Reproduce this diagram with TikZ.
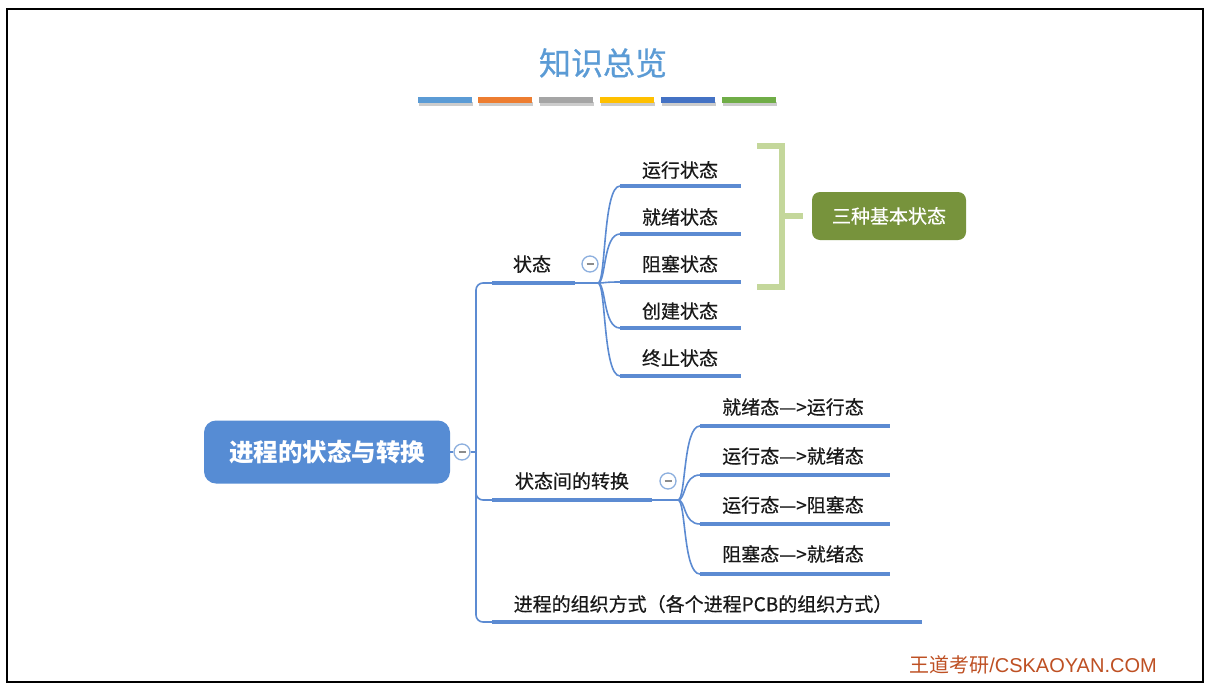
\documentclass[tikz,border=0pt]{standalone}
\usepackage{fontspec}
\setmainfont{Noto Sans CJK SC}
\newfontfamily\medf[FakeBold=0.5]{Noto Sans CJK SC}
\newfontfamily\titlef[FakeBold=0.6]{Noto Sans CJK SC}
\newfontfamily\arialf{Liberation Sans}
\usetikzlibrary{calc}
\definecolor{lblue}{RGB}{92,139,210}
\definecolor{rootblue}{RGB}{86,140,212}
\definecolor{titleblue}{RGB}{91,155,213}
\definecolor{cblue}{RGB}{140,175,222}
\definecolor{barA}{RGB}{91,155,213}
\definecolor{barB}{RGB}{237,125,49}
\definecolor{barC}{RGB}{165,165,165}
\definecolor{barD}{RGB}{255,192,0}
\definecolor{barE}{RGB}{68,114,196}
\definecolor{barF}{RGB}{112,173,71}
\definecolor{brgreen}{RGB}{196,215,155}
\definecolor{boxgreen}{RGB}{119,147,60}
\definecolor{wmred}{RGB}{190,80,35}
\begin{document}
\begin{tikzpicture}[x=1pt,y=-1pt,
  thickline/.style={line width=4pt, draw=lblue},
  thinline/.style={line width=1.6pt, draw=lblue},
  lbl/.style={font=\medf\fontsize{19}{21}\selectfont, text=black!90, inner sep=0pt},
  rootnode/.style={fill=rootblue, rounded corners=12pt, minimum width=246pt, minimum height=63pt,
    text=white, font=\fontsize{24.5}{26}\selectfont\bfseries, inner sep=0pt},
  greenbox/.style={fill=boxgreen, rounded corners=8pt, minimum width=154pt, minimum height=48pt,
    text=white, font=\medf\fontsize{19}{21}\selectfont, inner sep=0pt},
  collapse/.style={circle, draw=cblue, fill=white, line width=1.3pt, minimum size=16pt, inner sep=0pt,
    path picture={\draw[black!45, line width=1.2pt]
      ([xshift=-3.5pt]path picture bounding box.center) -- ([xshift=3.5pt]path picture bounding box.center);}},
  bracketline/.style={draw=brgreen, line width=6pt},
  colorbar/.style={minimum width=54pt, minimum height=6pt, inner sep=0pt}
]
\useasboundingbox (0,0) rectangle (1211,689);
\fill[white] (0,0) rectangle (1211,689);
\draw[line width=2.6pt, black] (7,9) rectangle (1203,682);

% title
\node[font=\titlef\fontsize{32}{34}\selectfont, text=titleblue, inner sep=0pt] (title) at (603,63) {知识总览};

% colour bars
\foreach \x/\c [count=\i] in {445/barA,505/barB,566/barC,627/barD,688/barE,749/barF}{
  \fill[black!20] (\x-26,102) rectangle (\x+28,106);
  \node[colorbar, fill=\c] (bar\i) at (\x,100) {};
}

% root
\node[rootnode] (root) at (327,452) {进程的状态与转换};
\node[collapse] (c0) at (462,452) {};
\draw[thinline] (root.east) -- (c0.west);

% trunk coordinates
\coordinate (sA) at (492,283);
\coordinate (sB) at (575,283);
\coordinate (sJ) at (598,283);
\coordinate (tA) at (492,500);
\coordinate (tB) at (652,500);
\coordinate (tJ) at (678,500);
\coordinate (pA) at (492,622);
\coordinate (pB) at (922,622);
\coordinate (trunk) at (476,452);

\draw[thinline, rounded corners=7pt] (sA) -- (sA -| trunk) -- (pA -| trunk) -- (pA);
\draw[thinline, rounded corners=7pt] ($(tA -| trunk)+(0,-20)$) -- (tA -| trunk) -- (tA);
\draw[thinline] (c0.east) -- (trunk);

% branch 1: 状态
\node[lbl] (s) at (532,264) {状态};
\draw[thickline] (sA) -- (sB);
\draw[thinline] (sB) -- (sJ);
\node[collapse] (c1) at (590,264) {};

\foreach \t/\ly/\uy [count=\i] in {运行状态/170/186, 就绪状态/217/234, 阻塞状态/264/282, 创建状态/311/328, 终止状态/358/376}{
  \node[lbl] (k\i) at (680,\ly) {\t};
  \coordinate (k\i a) at (620,\uy);
  \coordinate (k\i b) at (741,\uy);
  \draw[thickline] (k\i a) -- (k\i b);
  \draw[thinline] (sJ) .. controls ($(sJ)+(8,0)$) and ($(k\i a)+(-17,0)$) .. (k\i a);
}

% bracket
\coordinate (brT) at (757,146);
\coordinate (brB) at (757,287);
\coordinate (brM) at (782,216);
\draw[bracketline] (brT) -- (brT -| brM) -- (brB -| brM) -- (brB);
\node[greenbox] (basic) at (889,216) {三种基本状态};
\draw[bracketline] (brM) -- ($(basic.west)+(-9,0)$);

% branch 2: 状态间的转换
\node[lbl] (t) at (572,481) {状态间的转换};
\draw[thickline] (tA) -- (tB);
\draw[thinline] (tB) -- (tJ);
\node[collapse] (c2) at (668,481) {};

\foreach \t/\ly/\uy [count=\i] in {就绪态—>运行态/407/426, 运行态—>就绪态/456/475, 运行态—>阻塞态/505/524, 阻塞态—>就绪态/554/574}{
  \node[lbl] (m\i) at (793,\ly) {\t};
  \coordinate (m\i a) at (700,\uy);
  \coordinate (m\i b) at (890,\uy);
  \draw[thickline] (m\i a) -- (m\i b);
  \draw[thinline] (tJ) .. controls ($(tJ)+(8,0)$) and ($(m\i a)+(-17,0)$) .. (m\i a);
}

% branch 3
\node[lbl] (p) at (703,604) {进程的组织方式（各个进程PCB的组织方式）};
\draw[thickline] (pA) -- (pB);

% watermark
\node[font=\fontsize{20}{22}\selectfont, text=wmred, inner sep=0pt] (wm) at (1033,665) {王道考研{\arialf /CSKAOYAN.COM}};
\end{tikzpicture}
\end{document}
